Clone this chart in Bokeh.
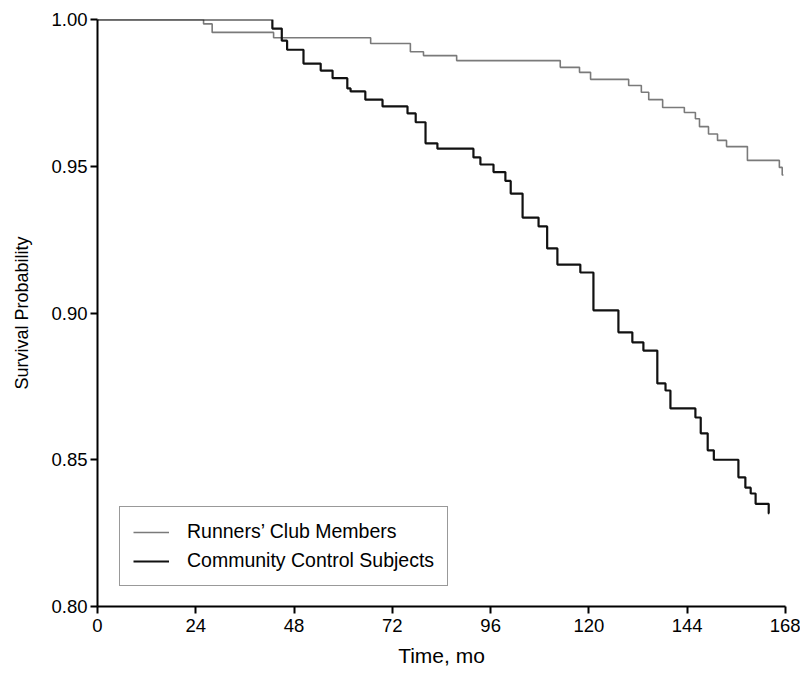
from bokeh.plotting import figure
from bokeh.models import FixedTicker, PrintfTickFormatter, Legend, LegendItem, Range1d
from bokeh.embed import file_html
from bokeh.resources import INLINE

# Kaplan-Meier step data (time in months, survival probability)
runners_t = [0, 25.9, 28.0, 43.0, 66.7, 76.4, 79.6, 87.7, 113.0, 117.7, 120.4, 129.7,
             132.8, 134.6, 138.0, 143.3, 146.0, 147.0, 149.2, 151.4, 153.6, 158.7,
             166.5, 167.2, 167.5]
runners_s = [1.0, 0.9985, 0.9956, 0.9938, 0.9918, 0.9890, 0.9877, 0.9860, 0.9837, 0.9820,
             0.9796, 0.9775, 0.9752, 0.9727, 0.9700, 0.9683, 0.9662, 0.9635, 0.9610,
             0.9588, 0.9567, 0.9520, 0.9496, 0.9470, 0.9470]

community_t = [0, 42.7, 45.0, 46.3, 50.3, 54.5, 57.4, 61.0, 61.8, 65.4, 69.6, 75.7, 77.7,
               80.1, 83.0, 91.8, 93.5, 96.7, 99.6, 100.9, 103.8, 107.7, 109.8, 112.3,
               117.9, 121.1, 127.2, 130.6, 133.3, 136.7, 138.7, 139.9, 146.0, 147.3,
               149.0, 150.5, 156.5, 158.2, 159.5, 160.7, 163.9, 164.0]
community_s = [1.0, 0.9969, 0.9928, 0.9897, 0.9850, 0.9826, 0.9800, 0.9765, 0.9755, 0.9727,
               0.9704, 0.9680, 0.9650, 0.9578, 0.9560, 0.9530, 0.9506, 0.9480, 0.9450,
               0.9407, 0.9325, 0.9295, 0.9220, 0.9165, 0.9138, 0.9009, 0.8934, 0.8900,
               0.8872, 0.8760, 0.8736, 0.8675, 0.8644, 0.8590, 0.8532, 0.8500, 0.8440,
               0.8405, 0.8385, 0.8350, 0.8317, 0.8317]

x_ticks = [0, 24, 48, 72, 96, 120, 144, 168]
y_ticks = [0.80, 0.85, 0.90, 0.95, 1.00]
series_names = ["Runners\u2019 Club Members", "Community Control Subjects"]

FONT = "Liberation Sans"

p = figure(output_backend="svg", toolbar_location=None,
           frame_width=688, frame_height=587,
           min_border_left=97, min_border_right=15, min_border_top=19, min_border_bottom=55,
           x_range=Range1d(0, 168), y_range=Range1d(0.80, 1.00),
           x_axis_label="Time, mo", y_axis_label="Survival Probability")

p.outline_line_color = None
p.grid.visible = False
p.background_fill_color = "white"
p.border_fill_color = "white"

r1 = p.step(runners_t, runners_s, mode="after", line_color="#7a7a7a", line_width=1.6)
r2 = p.step(community_t, community_s, mode="after", line_color="#111111", line_width=2.2)

p.xaxis.ticker = FixedTicker(ticks=x_ticks)
p.yaxis.ticker = FixedTicker(ticks=y_ticks)
p.yaxis.formatter = PrintfTickFormatter(format="%.2f")

for ax in (p.xaxis[0], p.yaxis[0]):
    ax.axis_line_width = 2
    ax.axis_line_color = "black"
    ax.major_tick_line_width = 2
    ax.major_tick_line_color = "black"
    ax.major_tick_out = 7
    ax.major_tick_in = 0
    ax.minor_tick_line_color = None
    ax.major_label_text_font = FONT
    ax.major_label_text_font_size = "18.5px"
    ax.major_label_text_color = "black"
    ax.axis_label_text_font = FONT
    ax.axis_label_text_font_style = "normal"
    ax.axis_label_text_color = "black"

p.xaxis.axis_label_text_font_size = "21px"
p.yaxis.axis_label_text_font_size = "18px"
p.xaxis.major_label_standoff = 5
p.xaxis.axis_label_standoff = 9
p.yaxis.major_label_standoff = 3
p.yaxis.axis_label_standoff = 16

legend = Legend(items=[LegendItem(label=series_names[0], renderers=[r1]),
                       LegendItem(label=series_names[1], renderers=[r2])],
                location=(22, 20))
legend.border_line_color = "#333333"
legend.border_line_width = 1.5
legend.label_text_font = FONT
legend.label_text_font_size = "19.5px"
legend.label_text_color = "black"
legend.label_height = 22
legend.glyph_height = 22
legend.glyph_width = 36
legend.label_standoff = 18
legend.padding = 13
legend.spacing = 6
legend.margin = 0
legend.background_fill_alpha = 1
p.add_layout(legend, "center")

open("out.html", "w").write(file_html(p, INLINE))
